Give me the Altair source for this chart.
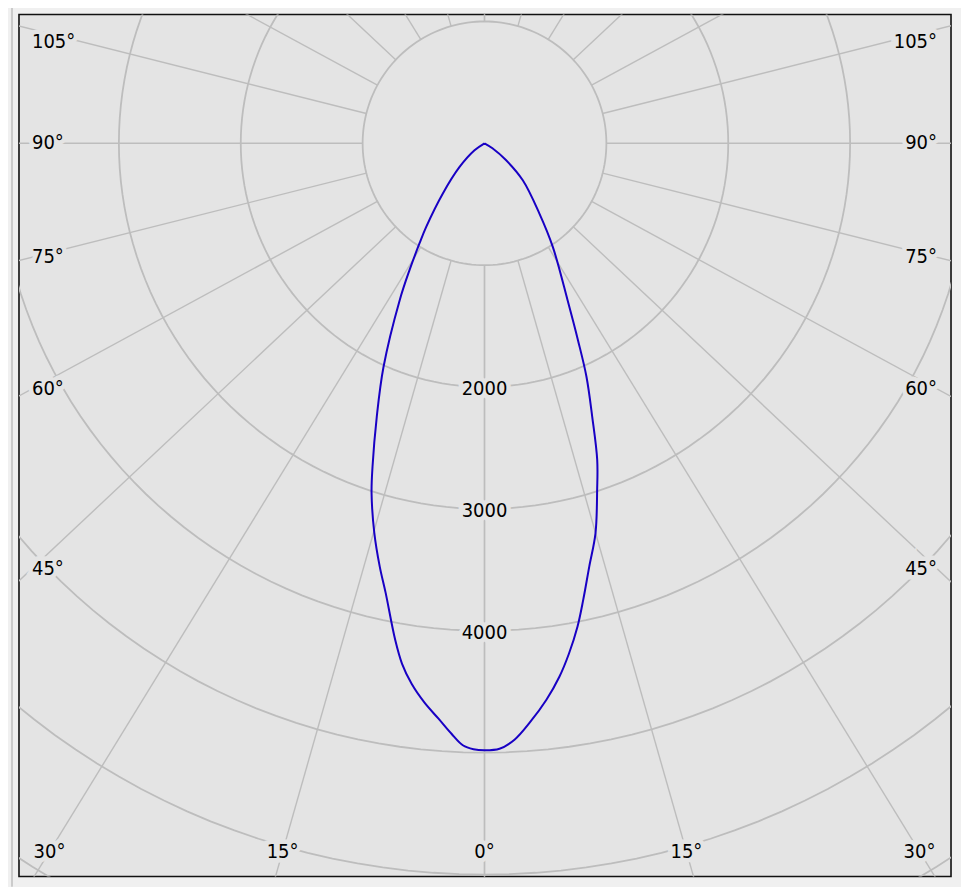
import numpy as np
import pandas as pd
import altair as alt

# ---------------- data ----------------
ring_values = [1000, 2000, 3000, 4000, 5000, 6000, 7000]     # cd circles
ring_labels = [2000, 3000, 4000]
spoke_angles = [0, 15, 30, 45, 60, 75, 90, 105, 120, 135, 150, 165, 180]
angle_labels = [0, 15, 30, 45, 60, 75, 90, 105]

# left half of the intensity curve (angle from nadir, cd)
left_angles = [90, 55, 46.5, 39.7, 34.9, 33.0, 30.6, 28.4, 24.3, 21.5, 19.1,
               17.9, 15.8, 13.9, 12.4, 10.2, 9.0, 7.68, 6.12, 4.57, 3.2, 2.06, 1.04, 0]
left_cd = [0, 100, 282, 535, 836, 980, 1209, 1463, 2014, 2412, 2808,
           3015, 3321, 3578, 3777, 4139, 4324, 4475, 4616, 4736, 4852, 4942, 4972, 4980]
# right half
right_angles = [1.42, 2.88, 4.54, 6.35, 7.99, 9.39, 10.9, 12.2, 13.9, 15.9, 18.0, 19.6,
                21.5, 23.6, 25.4, 27.9, 33.4, 38.0, 46.0, 51.9, 58.0, 90]
right_cd = [4969, 4900, 4761, 4594, 4420, 4245, 4037, 3833, 3578, 3325, 2991, 2757,
            2412, 2090, 1788, 1457, 1018, 732, 437, 226, 77, 0]

# ---------------- styling ----------------
PX = 0.122            # pixels per cd
SPOKE_ASPECT = 0.94   # spokes of the reference are drawn slightly flattened
BG = "#e4e4e4"
GRID = "#bdbdbd"
CURVE = "#1800c4"
FONT = "'DejaVu Sans Condensed', 'Noto Sans', sans-serif"
FS = 20
W, H = 933, 863
CX, CY = 466, 129     # centre inside the plot area (px)
LABEL_SIDE = 453 / PX
LABEL_BOTTOM = 709 / PX
LABEL_TOP = -101 / PX

xs = alt.Scale(domain=[-CX / PX, (W - CX) / PX], nice=False, zero=False)
ys = alt.Scale(domain=[-CY / PX, (H - CY) / PX], nice=False, zero=False, reverse=True)

# circles
rows = []
th = np.radians(np.arange(0, 362, 2))
for r in ring_values:
    for i, t in enumerate(th):
        rows.append({"g": r, "i": i, "x": r * np.sin(t), "y": r * np.cos(t)})
circles = pd.DataFrame(rows)

# spokes and angle labels
def direction(a, side):
    d = np.array([side * np.sin(np.radians(a)), SPOKE_ASPECT * np.cos(np.radians(a))])
    return d / np.hypot(*d)

rows = []
for a in spoke_angles:
    for side in (-1, 1):
        d = direction(a, side)
        for i, r in enumerate((1000, 9000)):
            rows.append({"g": f"{a}_{side}", "i": i, "x": r * d[0], "y": r * d[1]})
spokes = pd.DataFrame(rows)

rows = []
for a in angle_labels:
    for side in ((1,) if a == 0 else (-1, 1)):
        d = direction(a, side)
        t_side = LABEL_SIDE / abs(d[0]) if abs(d[0]) > 1e-9 else np.inf
        t_bot = LABEL_BOTTOM / d[1] if d[1] > 1e-9 else np.inf
        if t_side < t_bot:
            pos = "left" if side < 0 else "right"
            t = t_side
        else:
            pos = "bottom"
            t = t_bot
        rows.append({"x": t * d[0], "y": max(t * d[1], LABEL_TOP),
                     "label": f"{a}°", "pos": pos})
deg_labels = pd.DataFrame(rows)

val_labels = pd.DataFrame({"x": [0.0] * len(ring_labels),
                           "y": [float(v) for v in ring_labels],
                           "label": [str(v) for v in ring_labels]})

# intensity curve
rows = []
k = 0
for a, c in zip(left_angles, left_cd):
    rows.append({"i": k, "x": -c * np.sin(np.radians(a)), "y": c * np.cos(np.radians(a))}); k += 1
for a, c in zip(right_angles, right_cd):
    rows.append({"i": k, "x": c * np.sin(np.radians(a)), "y": c * np.cos(np.radians(a))}); k += 1
curve = pd.DataFrame(rows)

X = alt.X("x:Q", scale=xs, axis=None)
Y = alt.Y("y:Q", scale=ys, axis=None)

circ = alt.Chart(circles).mark_line(color=GRID, strokeWidth=1.8, clip=True).encode(
    x=X, y=Y, detail="g:N", order="i:Q")
spk = alt.Chart(spokes).mark_line(color=GRID, strokeWidth=1.4, clip=True).encode(
    x=X, y=Y, detail="g:N", order="i:Q")
curve_l = alt.Chart(curve).mark_line(color=CURVE, strokeWidth=2,
                                     interpolate="catmull-rom").encode(
    x=X, y=Y, order="i:Q")

def text_layers(df, dy, align):
    halo = alt.Chart(df).mark_text(font=FONT, fontSize=FS, baseline="middle", align=align,
                                   dy=dy, fill=BG, stroke=BG, strokeWidth=9).encode(
        x=X, y=Y, text="label:N")
    txt = alt.Chart(df).mark_text(font=FONT, fontSize=FS, baseline="middle", align=align,
                                  dy=dy, color="#000000").encode(x=X, y=Y, text="label:N")
    return halo + txt

frame_v = alt.Chart(val_labels).mark_rule(color="#c6c6c6", strokeWidth=1).encode(
    x=alt.value(-7), y=alt.value(-8), y2=alt.value(873))
frame_h = alt.Chart(val_labels).mark_rule(color="#c6c6c6", strokeWidth=1).encode(
    x=alt.value(-7), x2=alt.value(938), y=alt.value(-8))

chart = alt.layer(
    frame_v, frame_h, circ, spk, curve_l,
    text_layers(deg_labels[deg_labels.pos == "left"], 0, "left"),
    text_layers(deg_labels[deg_labels.pos == "right"], 0, "right"),
    text_layers(deg_labels[deg_labels.pos == "bottom"], 0, "center"),
    text_layers(val_labels, 2, "center"),
).properties(
    width=W, height=H,
    autosize=alt.AutoSizeParams(type="none"),
    padding={"left": 11, "top": 6, "right": 10, "bottom": 10},
    background="#f0f0f0",
).configure_view(stroke="#111111", strokeWidth=1.6, fill=BG)

chart.save("out.html", embed_options={"renderer": "svg", "actions": False})
